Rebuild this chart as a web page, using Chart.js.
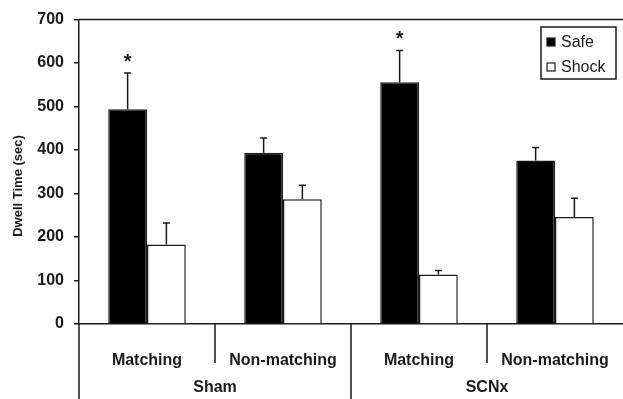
<!DOCTYPE html>
<html>
<head>
<meta charset="utf-8">
<script src="https://cdn.jsdelivr.net/npm/chart.js@4"></script>
<style>
  html, body { margin: 0; padding: 0; background: #fff; }
  #wrap { width: 623px; height: 399px; position: relative; }
</style>
</head>
<body>
<div id="wrap"><canvas id="c"></canvas></div>
<script>
// data
const conditions = ['Matching', 'Non-matching', 'Matching', 'Non-matching'];
const groups = ['Sham', 'SCNx'];
const safe = [494, 394, 556, 376];
const safeErr = [83, 34, 73, 30];
const shock = [183, 287, 114, 246];
const shockErr = [49, 32, 9, 43];
const starred = [true, false, true, false];
const yTicks = [0, 100, 200, 300, 400, 500, 600, 700];
const yTitle = 'Dwell Time (sec)';

const INK = '#1a1a1a';
const FONT = '"Liberation Sans", Arial, sans-serif';

// error bars (upper only) + asterisks
const errorBars = {
    id: 'errorBars',
    afterDatasetsDraw(chart) {
        const ctx = chart.ctx;
        const y = chart.scales.y;
        const errs = [safeErr, shockErr];
        ctx.save();
        ctx.strokeStyle = INK;
        ctx.lineWidth = 1.5;
        chart.data.datasets.forEach((ds, di) => {
            const meta = chart.getDatasetMeta(di);
            meta.data.forEach((bar, i) => {
                const top = y.getPixelForValue(ds.data[i] + errs[di][i]);
                ctx.beginPath();
                ctx.moveTo(bar.x, bar.y);
                ctx.lineTo(bar.x, top);
                ctx.moveTo(bar.x - 3.5, top);
                ctx.lineTo(bar.x + 3.5, top);
                ctx.stroke();
                if (di === 0 && starred[i]) {
                    ctx.fillStyle = INK;
                    ctx.font = 'bold 20px ' + FONT;
                    ctx.textAlign = 'center';
                    ctx.textBaseline = 'middle';
                    ctx.fillText('*', bar.x, top - 11);
                }
            });
        });
        ctx.restore();
    }
};

// frame, group separators, group labels, y title
const frame = {
    id: 'frame',
    afterDraw(chart) {
        const ctx = chart.ctx;
        const a = chart.chartArea;
        const x = chart.scales.x;
        const H = chart.height;
        ctx.save();
        ctx.strokeStyle = INK;
        ctx.lineWidth = 1.5;
        ctx.beginPath();
        // top border
        ctx.moveTo(a.left, a.top);
        ctx.lineTo(a.right, a.top);
        // left axis continues to the bottom
        ctx.moveTo(a.left, a.bottom);
        ctx.lineTo(a.left, H);
        // short separators inside each group
        for (let g = 0; g < groups.length; g++) {
            const sx = (x.getPixelForValue(g * 2) + x.getPixelForValue(g * 2 + 1)) / 2;
            ctx.moveTo(sx, a.bottom);
            ctx.lineTo(sx, a.bottom + 39);
        }
        // long separator between groups
        const gx = (x.getPixelForValue(1) + x.getPixelForValue(2)) / 2;
        ctx.moveTo(gx, a.bottom);
        ctx.lineTo(gx, H);
        ctx.stroke();

        ctx.fillStyle = INK;
        ctx.font = 'bold 16px ' + FONT;
        ctx.textAlign = 'center';
        ctx.textBaseline = 'middle';
        groups.forEach((g, gi) => {
            const cx = (x.getPixelForValue(gi * 2) + x.getPixelForValue(gi * 2 + 1)) / 2;
            ctx.fillText(g, cx, a.bottom + 64);
        });

        ctx.translate(18, 186);
        ctx.rotate(-Math.PI / 2);
        ctx.font = 'bold 13px ' + FONT;
        ctx.fillText(yTitle, 0, 0);
        ctx.restore();
    }
};

// boxed legend, top right
const boxLegend = {
    id: 'boxLegend',
    afterDraw(chart) {
        const ctx = chart.ctx;
        const items = chart.data.datasets;
        const bx = 541, by = 27, bw = 75, bh = 52;
        ctx.save();
        ctx.fillStyle = '#fff';
        ctx.fillRect(bx, by, bw, bh);
        ctx.strokeStyle = INK;
        ctx.lineWidth = 1.5;
        ctx.strokeRect(bx, by, bw, bh);
        ctx.font = '16px ' + FONT;
        ctx.textBaseline = 'middle';
        items.forEach((ds, i) => {
            const cy = by + 15 + i * 25;
            ctx.fillStyle = ds.backgroundColor;
            ctx.fillRect(bx + 6, cy - 4, 8, 8);
            ctx.lineWidth = 1.2;
            ctx.strokeRect(bx + 6, cy - 4, 8, 8);
            ctx.fillStyle = INK;
            ctx.fillText(ds.label, bx + 20, cy + 1);
        });
        ctx.restore();
    }
};

new Chart(document.getElementById('c'), {
    type: 'bar',
    data: {
        labels: conditions,
        datasets: [
            { label: 'Safe', data: safe, backgroundColor: '#000', borderColor: INK, borderWidth: 1.5 },
            { label: 'Shock', data: shock, backgroundColor: '#fff', borderColor: INK, borderWidth: 1.5 },
        ]
    },
    options: {
        responsive: true,
        maintainAspectRatio: false,
        animation: false,
        layout: { padding: { top: 17, right: 0, left: 0, bottom: 0 } },
        categoryPercentage: 0.57,
        barPercentage: 1.0,
        plugins: { legend: { display: false }, tooltip: { enabled: false } },
        scales: {
            x: {
                grid: { display: false },
                border: { color: INK, width: 1.5 },
                ticks: {
                    color: INK, padding: 19, maxRotation: 0, autoSkip: false,
                    font: { family: FONT, size: 16, weight: 'bold' }
                },
                afterFit: (s) => { s.height = 75; s.paddingLeft = 0; s.paddingRight = 0; }
            },
            y: {
                min: 0, max: 700,
                afterBuildTicks: (s) => { s.ticks = yTicks.map(v => ({ value: v })); },
                grid: { drawOnChartArea: false, tickLength: 5, color: INK, lineWidth: 1.5 },
                border: { color: INK, width: 1.5 },
                ticks: {
                    color: INK, padding: 10,
                    font: { family: FONT, size: 16, weight: 'bold' }
                },
                afterFit: (s) => { s.width = 79; }
            }
        }
    },
    plugins: [errorBars, frame, boxLegend]
});
</script>
</body>
</html>
